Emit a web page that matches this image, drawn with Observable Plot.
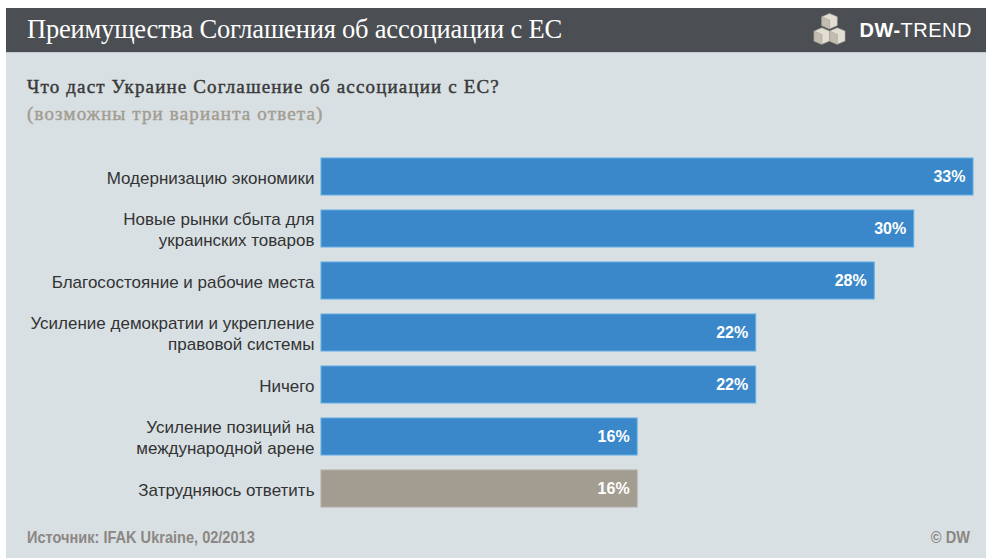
<!DOCTYPE html>
<html>
<head>
<meta charset="utf-8">
<script src="https://cdn.jsdelivr.net/npm/d3@7"></script>
<script src="https://cdn.jsdelivr.net/npm/@observablehq/plot@0.6"></script>
<style>
  html, body { margin: 0; padding: 0; background: #ffffff; }
  #page { position: relative; width: 986px; height: 558px; overflow: hidden; background: #ffffff; }
  #header { position: absolute; left: 6px; top: 8px; width: 980px; height: 44px; background: #4b4f53; }
  #title { position: absolute; left: 21px; top: 6px; font-family: "Liberation Serif", "Times New Roman", serif; font-size: 26.5px; color: #ffffff; letter-spacing: -0.2px; }
  #logo { position: absolute; right: 14px; top: 4px; display: flex; align-items: center; gap: 5px; }
  #logo .txt { font-family: "Liberation Sans", Arial, sans-serif; font-size: 20px; color: #ffffff; letter-spacing: 0.5px; }
  #logo .txt b { font-weight: bold; }
  #panel { position: absolute; left: 6px; top: 52px; width: 980px; height: 506px; background: #d8e0e4; border-top: 1px solid #c2cacf; }
  .sub { position: absolute; left: 27px; font-family: "Liberation Serif", Georgia, serif; font-size: 19px; letter-spacing: 1.15px; -webkit-text-stroke: 0.45px currentColor; }
  #sub1 { top: 76px; color: #3a3a3a; }
  #sub2 { top: 103px; color: #a39d92; }
  #chart { position: absolute; left: 0px; top: 140px; }
  .foot { position: absolute; top: 529px; font-family: "Liberation Sans", Arial, sans-serif; font-weight: bold; font-size: 16px; color: #8c8782; transform: scaleX(0.91); }
  #source { left: 27px; transform-origin: left center; }
  #copy { right: 16px; transform-origin: right center; }
</style>
</head>
<body>
<div id="page">
  <div id="header">
    <div id="title">Преимущества Соглашения об ассоциации с ЕС</div>
    <div id="logo">
      <svg width="42" height="36" viewBox="0 0 38 32">
        <g stroke="#a29e94" stroke-width="0.5">
          <polygon points="15,1 22,4 22,12 15,15 8,12 8,4" fill="#e2ded4"/>
          <polygon points="8,4 15,7 15,15 8,12" fill="#c2bdb0"/>
          <polygon points="8,14 15,17 15,26 8,29 1,26 1,17" fill="#e2ded4"/>
          <polygon points="1,17 8,20 8,29 1,26" fill="#c2bdb0"/>
          <polygon points="22,14 29,17 29,26 22,29 15,26 15,17" fill="#e2ded4"/>
          <polygon points="15,17 22,20 22,29 15,26" fill="#c2bdb0"/>
        </g>
      </svg>
      <div class="txt"><b>DW-</b>TREND</div>
    </div>
  </div>
  <div id="panel"></div>
  <div id="sub1" class="sub">Что даст Украине Соглашение об ассоциации с ЕС?</div>
  <div id="sub2" class="sub">(возможны три варианта ответа)</div>
  <div id="chart"></div>
  <div id="source" class="foot">Источник: IFAK Ukraine, 02/2013</div>
  <div id="copy" class="foot">© DW</div>
</div>
<script>
const categories = [
  "Модернизацию экономики",
  "Новые рынки сбыта для\nукраинских товаров",
  "Благосостояние и рабочие места",
  "Усиление демократии и укрепление\nправовой системы",
  "Ничего",
  "Усиление позиций на\nмеждународной арене",
  "Затрудняюсь ответить"
];
const values = [33, 30, 28, 22, 22, 16, 16];
const groups = ["answer", "answer", "answer", "answer", "answer", "answer", "undecided"];

const data = categories.map((c, i) => ({category: c, value: values[i], group: groups[i]}));

const chart = Plot.plot({
  width: 986,
  height: 384,
  marginLeft: 321,
  marginRight: 13,
  marginTop: 10,
  marginBottom: 10,
  style: {background: "transparent", fontFamily: "'Liberation Sans', Arial, sans-serif"},
  x: {domain: [0, 33], axis: null},
  y: {domain: categories, paddingInner: 0.29, paddingOuter: 0.145, label: null},
  color: {domain: ["answer", "undecided"], range: ["#3a88c9", "#a39c91"]},
  marks: [
    Plot.barX(data, {
      x: "value", y: "category", fill: "group",
      stroke: d => d.group === "answer" ? "#5eaee6" : "#b3ada3",
      strokeWidth: 1
    }),
    Plot.text(data, {
      x: "value", y: "category", text: d => d.value + "%",
      textAnchor: "end", dx: -8, fill: "#ffffff",
      fontWeight: "bold", fontSize: 16
    }),
    Plot.axisY({
      tickSize: 0, tickPadding: 7, fontSize: 17, lineHeight: 1.24,
      fill: "#333333", label: null
    })
  ]
});
document.getElementById("chart").appendChild(chart);
</script>
</body>
</html>
